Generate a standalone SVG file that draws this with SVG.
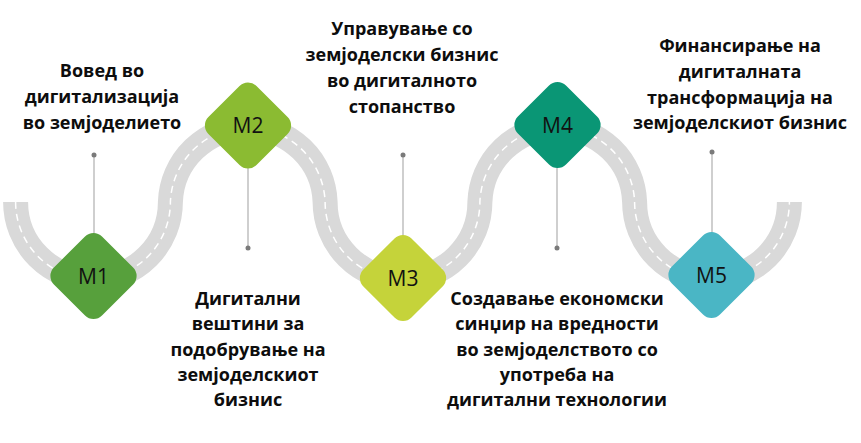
<svg xmlns="http://www.w3.org/2000/svg" width="861" height="443" viewBox="0 0 861 443">
<style>
.road{fill:none;stroke:#d9d9d9;stroke-width:25}
.dash{fill:none;stroke:#ffffff;stroke-width:1.5;stroke-dasharray:7 5}
.pin{stroke:#bfbfbf;stroke-width:1.5}
.dot{fill:#7a7a7a}
.lbl{font-family:"Open Sans","Liberation Sans",sans-serif;font-size:21px;fill:#111111;text-anchor:middle}
.txt{font-family:"Open Sans","Liberation Sans",sans-serif;font-size:18px;font-weight:bold;fill:#0d0d0d;text-anchor:middle}
</style>
<defs>
<rect id="dia" x="-34" y="-34" width="68" height="68" rx="12" ry="12"/>
</defs>
<rect width="861" height="443" fill="#ffffff"/>
<g id="road">
<path class="road" d="M15.6,202 A77.4,77.4 0 0 0 170.4,202 A77.4,77.4 0 0 1 325.1,202 A77.4,77.4 0 0 0 479.9,202 A77.4,77.4 0 0 1 634.6,202 A77.4,77.4 0 0 0 789.4,202"/>
<path class="dash" d="M15.6,202 A77.4,77.4 0 0 0 170.4,202 A77.4,77.4 0 0 1 325.1,202 A77.4,77.4 0 0 0 479.9,202 A77.4,77.4 0 0 1 634.6,202 A77.4,77.4 0 0 0 789.4,202"/>
</g>
<g id="connectors">
<line class="pin" x1="94" y1="155" x2="94" y2="236"/>
<circle class="dot" cx="94" cy="155" r="2.5"/>
<line class="pin" x1="248" y1="165" x2="248" y2="248"/>
<circle class="dot" cx="248" cy="248" r="2.5"/>
<line class="pin" x1="403" y1="155" x2="403" y2="238"/>
<circle class="dot" cx="403" cy="155" r="2.5"/>
<line class="pin" x1="557" y1="165" x2="557" y2="248"/>
<circle class="dot" cx="557" cy="248" r="2.5"/>
<line class="pin" x1="712" y1="152" x2="712" y2="235"/>
<circle class="dot" cx="712" cy="152" r="2.5"/>
</g>
<g id="m1">
<use href="#dia" transform="translate(93.5,276) rotate(45)" fill="#57a03c"/>
<text class="lbl" x="93.5" y="283.5">M1</text>
<text class="txt" x="102" y="77">Вовед во</text>
<text class="txt" x="102" y="103">дигитализација</text>
<text class="txt" x="102" y="129">во земјоделието</text>
</g>
<g id="m2">
<use href="#dia" transform="translate(248,125.5) rotate(45)" fill="#8bbb32"/>
<text class="lbl" x="248" y="133">M2</text>
<text class="txt" x="248" y="305">Дигитални</text>
<text class="txt" x="248" y="330">вештини за</text>
<text class="txt" x="248" y="355.5">подобрување на</text>
<text class="txt" x="248" y="380.5">земјоделскиот</text>
<text class="txt" x="248" y="406">бизнис</text>
</g>
<g id="m3">
<use href="#dia" transform="translate(403,278) rotate(45)" fill="#c5d33a"/>
<text class="lbl" x="403" y="285.5">M3</text>
<text class="txt" x="402" y="35">Управување со</text>
<text class="txt" x="402" y="61">земјоделски бизнис</text>
<text class="txt" x="402" y="87">во дигиталното</text>
<text class="txt" x="402" y="113">стопанство</text>
</g>
<g id="m4">
<use href="#dia" transform="translate(557.5,125) rotate(45)" fill="#0a9675"/>
<text class="lbl" x="557.5" y="132.5">M4</text>
<text class="txt" x="557" y="305">Создавање економски</text>
<text class="txt" x="557" y="330">синџир на вредности</text>
<text class="txt" x="557" y="355.5">во земјоделството со</text>
<text class="txt" x="557" y="380.5">употреба на</text>
<text class="txt" x="557" y="406">дигитални технологии</text>
</g>
<g id="m5">
<use href="#dia" transform="translate(711.5,275) rotate(45)" fill="#4ab6c5"/>
<text class="lbl" x="711.5" y="282.5">M5</text>
<text class="txt" x="740" y="52">Финансирање на</text>
<text class="txt" x="740" y="78">дигиталната</text>
<text class="txt" x="740" y="103.5">трансформација на</text>
<text class="txt" x="740" y="129">земјоделскиот бизнис</text>
</g>
</svg>
